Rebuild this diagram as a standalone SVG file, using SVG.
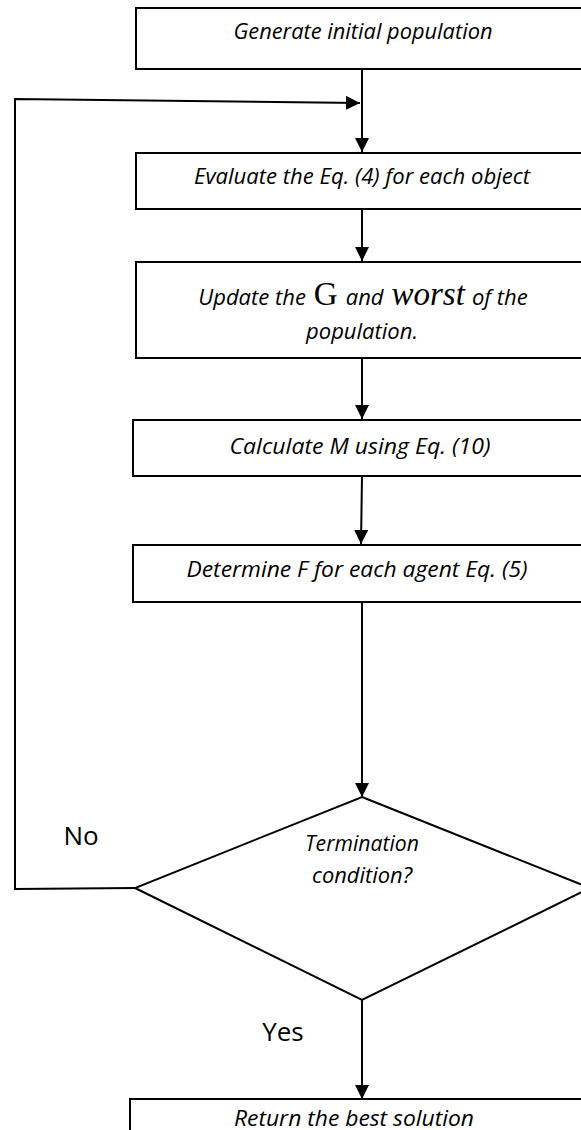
<svg xmlns="http://www.w3.org/2000/svg" width="581" height="1130" viewBox="0 0 581 1130">
  <style>
    .box { fill: #ffffff; stroke: #000000; stroke-width: 2; }
    .step { font-family: "Open Sans", "Liberation Sans", sans-serif; font-style: italic; font-size: 22px; fill: #000000; text-anchor: middle; }
    .sym { font-family: "Liberation Serif", "Times New Roman", serif; font-style: normal; font-size: 33px; }
    .var { font-family: "Liberation Serif", "Times New Roman", serif; font-style: italic; font-size: 33px; }
    .label { font-family: "Open Sans", "Liberation Sans", sans-serif; font-size: 26px; fill: #000000; text-anchor: middle; }
    .wire { fill: none; stroke: #000000; stroke-width: 2; }
  </style>
  <defs>
    <marker id="head" viewBox="0 0 10 10" refX="10" refY="5" markerWidth="14" markerHeight="14" markerUnits="userSpaceOnUse" orient="auto">
      <path d="M0,0 L10,5 L0,10 Z" fill="#000000"/>
    </marker>
  </defs>

  <!-- flow connectors and branch labels -->
  <g id="connectors">
    <line class="wire" x1="362" y1="69" x2="362" y2="152" marker-end="url(#head)"/>
    <polyline class="wire" points="135,888 15,889 15,99 360,103" marker-end="url(#head)"/>
    <line class="wire" x1="362" y1="209" x2="362" y2="261" marker-end="url(#head)"/>
    <line class="wire" x1="362" y1="358" x2="362" y2="419" marker-end="url(#head)"/>
    <line class="wire" x1="362" y1="476" x2="361" y2="544" marker-end="url(#head)"/>
    <line class="wire" x1="362" y1="602" x2="362" y2="797" marker-end="url(#head)"/>
    <line class="wire" x1="362" y1="1000" x2="362" y2="1099" marker-end="url(#head)"/>
    <text class="label" x="81" y="845">No</text>
    <text class="label" x="283" y="1041">Yes</text>
  </g>

  <g id="generate">
    <rect class="box" x="136" y="8" width="460" height="61"/>
    <text class="step" x="363" y="39" textLength="259" lengthAdjust="spacingAndGlyphs">Generate initial population</text>
  </g>

  <g id="evaluate">
    <rect class="box" x="136" y="153" width="460" height="56"/>
    <text class="step" x="362" y="184" textLength="336" lengthAdjust="spacingAndGlyphs">Evaluate the Eq. (4) for each object</text>
  </g>

  <g id="update">
    <rect class="box" x="136" y="262" width="460" height="96"/>
    <text class="step" x="363" y="305">Update the<tspan class="sym" dx="8">G</tspan><tspan dx="8">and</tspan><tspan class="var" dx="8">worst</tspan><tspan dx="7">of the</tspan></text>
    <text class="step" x="362" y="339">population.</text>
  </g>

  <g id="calculate">
    <rect class="box" x="133" y="420" width="460" height="56"/>
    <text class="step" x="360" y="454" textLength="261" lengthAdjust="spacingAndGlyphs">Calculate M using Eq. (10)</text>
  </g>

  <g id="determine">
    <rect class="box" x="133" y="545" width="460" height="57"/>
    <text class="step" x="357" y="577" textLength="341" lengthAdjust="spacingAndGlyphs">Determine F for each agent Eq. (5)</text>
  </g>

  <g id="termination">
    <polygon class="box" points="362,797 590,888 362,1000 135,888"/>
    <text class="step" x="362" y="851" textLength="114" lengthAdjust="spacingAndGlyphs">Termination</text>
    <text class="step" x="362" y="883" textLength="100" lengthAdjust="spacingAndGlyphs">condition?</text>
  </g>

  <g id="result">
    <rect class="box" x="130" y="1099" width="466" height="50"/>
    <text class="step" x="354" y="1126" textLength="240" lengthAdjust="spacingAndGlyphs">Return the best solution</text>
  </g>
</svg>
